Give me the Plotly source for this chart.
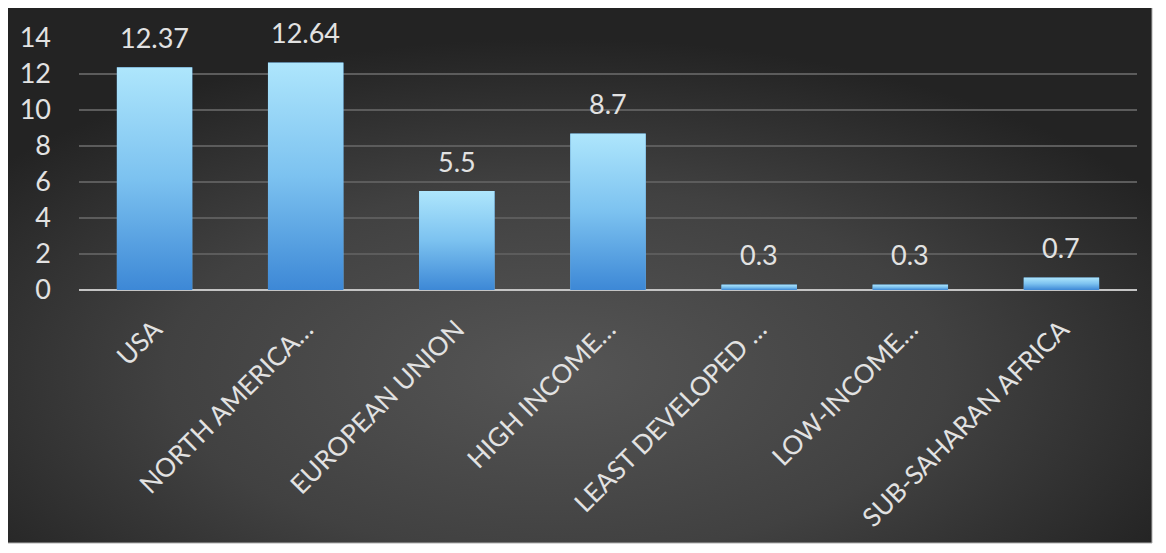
import base64
import plotly.graph_objects as go

categories = ["USA", "NORTH AMERICA…", "EUROPEAN UNION", "HIGH INCOME…",
              "LEAST DEVELOPED …", "LOW-INCOME…", "SUB-SAHARAN AFRICA"]
values = [12.37, 12.64, 5.5, 8.7, 0.3, 0.3, 0.7]
y_ticks = [0, 2, 4, 6, 8, 10, 12, 14]

OFF = 8  # default page body margin
W, H = 1166 - OFF, 553 - OFF
L, R, T, B = 79 - OFF, 29, 38 - OFF, 263
FONT = "Lato"
TXT = "#e2e2e2"

def svg_uri(svg):
    return "data:image/svg+xml;base64," + base64.b64encode(svg.encode()).decode()

bg_svg = ('<svg xmlns="http://www.w3.org/2000/svg" width="200" height="100" viewBox="0 0 200 100" '
          'preserveAspectRatio="none"><defs><radialGradient id="g" cx="0.48" cy="0.68" r="0.62">'
          '<stop offset="0" stop-color="#555555"/><stop offset="0.55" stop-color="#414141"/>'
          '<stop offset="1" stop-color="#232323"/></radialGradient></defs>'
          '<rect width="200" height="100" fill="url(#g)"/></svg>')
bar_svg = ('<svg xmlns="http://www.w3.org/2000/svg" width="10" height="100" viewBox="0 0 10 100" '
           'preserveAspectRatio="none"><defs><linearGradient id="b" x1="0" y1="0" x2="0" y2="1">'
          '<stop offset="0" stop-color="#aee6fc"/><stop offset="0.5" stop-color="#7cc2f0"/>'
          '<stop offset="1" stop-color="#3d88d6"/></linearGradient></defs>'
          '<rect width="10" height="100" fill="url(#b)"/></svg>')

xs = list(range(len(categories)))
bar_w = 0.5

fig = go.Figure()
fig.add_trace(go.Bar(x=xs, y=values, width=bar_w, marker=dict(color="#6cb4ec", line=dict(width=0)),
                     showlegend=False, hoverinfo="skip"))

pw = W - L - R
ph = H - T - B
def px2x(px):
    return (px - OFF - L) / pw
def py2y(py):
    return (H - B - (py - OFF)) / ph

images = [dict(source=svg_uri(bg_svg), xref="paper", yref="paper",
               x=px2x(7), y=py2y(6), sizex=px2x(1152) - px2x(7), sizey=py2y(6) - py2y(543),
               xanchor="left", yanchor="top", sizing="stretch", layer="below")]
for xi, v in zip(xs, values):
    images.append(dict(source=svg_uri(bar_svg), xref="x", yref="y", x=xi - bar_w / 2, y=v,
                       sizex=bar_w, sizey=v, xanchor="left", yanchor="top",
                       sizing="stretch", layer="above"))

annotations = [dict(x=xi, y=v, xref="x", yref="y", text=f"{v:g}", showarrow=False,
                    yanchor="middle", yshift=30, font=dict(family=FONT, size=27, color=TXT))
               for xi, v in zip(xs, values)]

shapes = [dict(type="rect", xref="paper", yref="paper", x0=px2x(7), x1=px2x(1152),
               y0=py2y(543), y1=py2y(6), line=dict(color="#b0b0b0", width=1), layer="below")]

fig.update_layout(
    width=W, height=H,
    margin=dict(l=L, r=R, t=T, b=B, pad=0),
    paper_bgcolor="white",
    plot_bgcolor="rgba(0,0,0,0)",
    images=images,
    annotations=annotations,
    shapes=shapes,
    bargap=0.5,
    font=dict(family=FONT, color=TXT),
    xaxis=dict(tickmode="array", tickvals=xs, ticktext=categories, range=[-0.5, len(xs) - 0.5],
               tickangle=-45, tickfont=dict(family=FONT, size=26, color=TXT),
               showgrid=False, zeroline=False, showline=False, ticks="", ticklabelstandoff=18),
    yaxis=dict(tickmode="array", tickvals=y_ticks, range=[0, 14],
               tickfont=dict(family=FONT, size=27, color=TXT),
               showgrid=True, gridcolor="#5c5c5c", gridwidth=2,
               zeroline=True, zerolinecolor="#c4c4c4", zerolinewidth=2,
               showline=False, ticks="", ticklabelstandoff=27),
)

fig.write_html("out.html")
